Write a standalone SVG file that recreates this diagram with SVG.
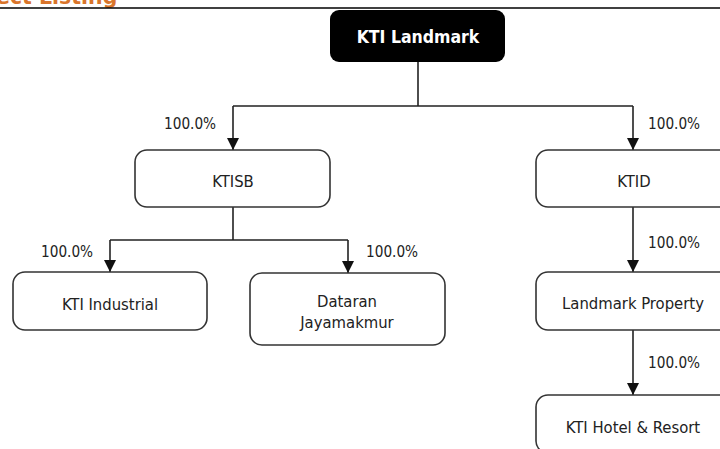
<svg xmlns="http://www.w3.org/2000/svg" width="720" height="449" viewBox="0 0 720 449">
<defs>
<style>
.bx{fill:#fff;stroke:#333;stroke-width:1.6}
.t{font-family:"DejaVu Sans Condensed","DejaVu Sans",sans-serif;font-size:16.5px;fill:#222;text-anchor:middle}
.p{font-family:"DejaVu Sans Condensed","DejaVu Sans",sans-serif;font-size:15.2px;fill:#222}
.ln{fill:none;stroke:#222;stroke-width:1.6}
</style>
<marker id="ah" viewBox="0 0 12 12" refX="12" refY="6" markerWidth="12" markerHeight="12" markerUnits="userSpaceOnUse" orient="auto">
<path d="M0,0 L12,6 L0,12 Z" fill="#111"/>
</marker>
</defs>
<rect width="720" height="449" fill="#fff"/>
<text x="-4" y="4" font-family="'DejaVu Sans',sans-serif" font-weight="bold" font-size="20.5" fill="#d9752b">ect Listing</text>
<line x1="0" y1="8" x2="720" y2="8" stroke="#000" stroke-width="1.6"/>
<g id="connectors">
<path class="ln" d="M418,62 V106 M233,106 H633"/>
<path class="ln" d="M233,106 V150" marker-end="url(#ah)"/>
<path class="ln" d="M633,106 V150" marker-end="url(#ah)"/>
<path class="ln" d="M233,207 V240 M110,240 H348"/>
<path class="ln" d="M110,240 V272" marker-end="url(#ah)"/>
<path class="ln" d="M348,240 V273" marker-end="url(#ah)"/>
<path class="ln" d="M633,207 V272" marker-end="url(#ah)"/>
<path class="ln" d="M633,330 V395" marker-end="url(#ah)"/>
<text class="p" x="164" y="129">100.0%</text>
<text class="p" x="648" y="129">100.0%</text>
<text class="p" x="41" y="257">100.0%</text>
<text class="p" x="366" y="257">100.0%</text>
<text class="p" x="648" y="248">100.0%</text>
<text class="p" x="648" y="368">100.0%</text>
</g>
<g id="kti-landmark">
<rect x="330" y="10" width="175" height="52" rx="9" fill="#000"/>
<text x="418" y="43" font-family="'DejaVu Sans Condensed','DejaVu Sans',sans-serif" font-weight="bold" font-size="17.5" fill="#fff" text-anchor="middle">KTI Landmark</text>
</g>
<g id="ktisb">
<rect class="bx" x="135" y="150" width="195" height="57" rx="12"/>
<text class="t" x="233" y="187">KTISB</text>
</g>
<g id="ktid">
<rect class="bx" x="536" y="150" width="195" height="57" rx="12"/>
<text class="t" x="634" y="187">KTID</text>
</g>
<g id="kti-industrial">
<rect class="bx" x="13" y="272" width="194" height="58" rx="12"/>
<text class="t" x="110" y="310">KTI Industrial</text>
</g>
<g id="dataran-jayamakmur">
<rect class="bx" x="250" y="273" width="195" height="72" rx="12"/>
<text class="t" x="347" y="307">Dataran</text>
<text class="t" x="347" y="328">Jayamakmur</text>
</g>
<g id="landmark-property">
<rect class="bx" x="536" y="272" width="195" height="58" rx="12"/>
<text class="t" x="633" y="309">Landmark Property</text>
</g>
<g id="kti-hotel-resort">
<rect class="bx" x="536" y="395" width="195" height="58" rx="12"/>
<text class="t" x="633" y="433">KTI Hotel &amp; Resort</text>
</g>
</svg>
